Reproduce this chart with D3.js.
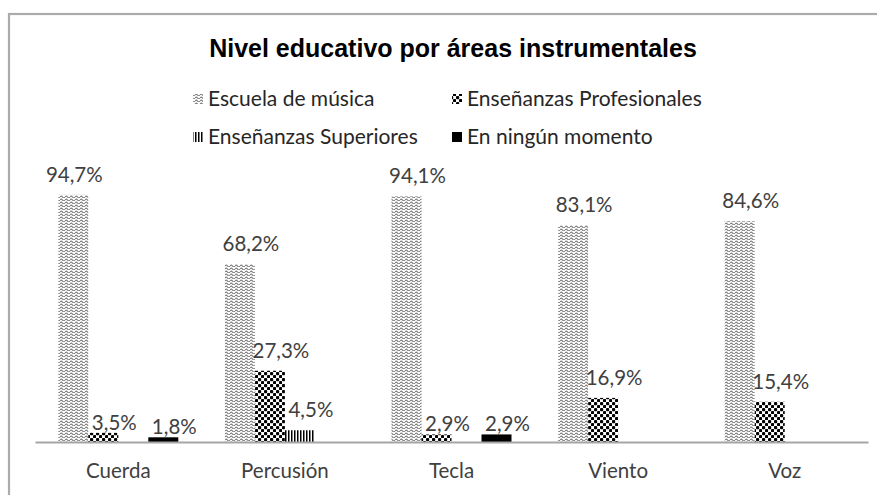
<!DOCTYPE html>
<html><head><meta charset="utf-8">
<script src="https://cdn.jsdelivr.net/npm/d3@7"></script>
<style>body{margin:0;background:#fff}</style></head>
<body>
<svg id="c" width="877" height="495"></svg>
<script>
const categories = ["Cuerda","Percusión","Tecla","Viento","Voz"];
const seriesNames = ["Escuela de música","Enseñanzas Profesionales","Enseñanzas Superiores","En ningún momento"];
const escuela = [94.7, 68.2, 94.1, 83.1, 84.6];
const profesionales = [3.5, 27.3, 2.9, 16.9, 15.4];
const superiores = [0, 4.5, 0, 0, 0];
const ninguno = [1.8, 0, 2.9, 0, 0];
const values = [escuela, profesionales, superiores, ninguno];

const svg = d3.select("#c");
const W = 877, H = 495;
const m = {left: 35, right: 868, top: 181, base: 442};
const fmt = v => v.toFixed(1).replace(".", ",") + "%";
const textFont = "Lato, 'Open Sans', sans-serif";
const fs = 20.5;

// patterns
const defs = svg.append("defs");
const pw = defs.append("pattern").attr("id","pWave").attr("patternUnits","userSpaceOnUse").attr("width",5).attr("height",3);
pw.append("rect").attr("width",5).attr("height",3).attr("fill","#fff");
pw.append("path").attr("d","M0,2 Q1.25,0.3 2.5,2 T5,2").attr("fill","none").attr("stroke","#7d7d7d").attr("stroke-width",1.1);
const pc = defs.append("pattern").attr("id","pCheck").attr("patternUnits","userSpaceOnUse").attr("width",6).attr("height",6);
pc.append("rect").attr("width",6).attr("height",6).attr("fill","#fff");
pc.append("rect").attr("x",0).attr("y",0).attr("width",3.2).attr("height",3.2).attr("rx",1).attr("fill","#000");
pc.append("rect").attr("x",3).attr("y",3).attr("width",3.2).attr("height",3.2).attr("rx",1).attr("fill","#000");
const pv = defs.append("pattern").attr("id","pVert").attr("patternUnits","userSpaceOnUse").attr("width",3).attr("height",4);
pv.append("rect").attr("width",3).attr("height",4).attr("fill","#fff");
pv.append("rect").attr("width",1.5).attr("height",4).attr("fill","#000");
const fills = ["url(#pWave)","url(#pCheck)","url(#pVert)","#000"];

// frame
svg.append("rect").attr("x",9).attr("y",14).attr("width",W).attr("height",H)
  .attr("fill","none").attr("stroke","#ababab").attr("stroke-width",2.2);

// title
svg.append("text").attr("x",453).attr("y",57).attr("text-anchor","middle")
  .attr("font-family","'Liberation Sans', Arial, sans-serif").attr("font-weight","bold")
  .attr("font-size",25).attr("fill","#000").text("Nivel educativo por áreas instrumentales");

// legend
const legPos = [[193,99],[452,99],[193,137],[452,137]];
seriesNames.forEach((s,i)=>{
  const [lx,ly] = legPos[i];
  svg.append("rect").attr("x",lx).attr("y",ly-5).attr("width",10).attr("height",10).attr("fill",fills[i]);
  svg.append("text").attr("x",lx+15).attr("y",ly+7).attr("font-family",textFont)
    .attr("font-size",21).attr("fill","#262626").text(s);
});

// scales
const x0 = d3.scaleBand().domain(categories).range([m.left, m.right]).padding(0);
const barW = 30;
const outer = (x0.bandwidth()/barW - seriesNames.length)/2;
const x1 = d3.scaleBand().domain(seriesNames).range([0, x0.bandwidth()]).paddingInner(0).paddingOuter(outer);
const y = d3.scaleLinear().domain([0,100]).range([m.base, m.top]);

// bars
const g = svg.append("g");
seriesNames.forEach((s,si)=>{
  categories.forEach((c,ci)=>{
    const v = values[si][ci];
    if (!v) return;
    const bx = x0(c) + x1(s);
    g.append("rect").attr("x",bx).attr("y",y(v)).attr("width",x1.bandwidth()).attr("height",m.base - y(v))
      .attr("fill",fills[si]);
    const shift = (ci===0 && si===0) ? 1 : 11;
    const lift = v < 4 ? 3 : 13;
    g.append("text").attr("x",bx + x1.bandwidth()/2 + shift).attr("y",y(v) - lift)
      .attr("text-anchor","middle").attr("font-family",textFont).attr("font-size",fs)
      .attr("fill","#404040").text(fmt(v));
  });
});

// axis
const ax = svg.append("g").attr("transform",`translate(0,${m.base})`)
  .call(d3.axisBottom(x0).tickSize(0).tickPadding(21));
ax.select(".domain").attr("stroke","#a6a6a6").attr("stroke-width",2);
ax.selectAll("text").attr("font-family",textFont).attr("font-size",fs).attr("fill","#404040");
</script>
</body></html>
